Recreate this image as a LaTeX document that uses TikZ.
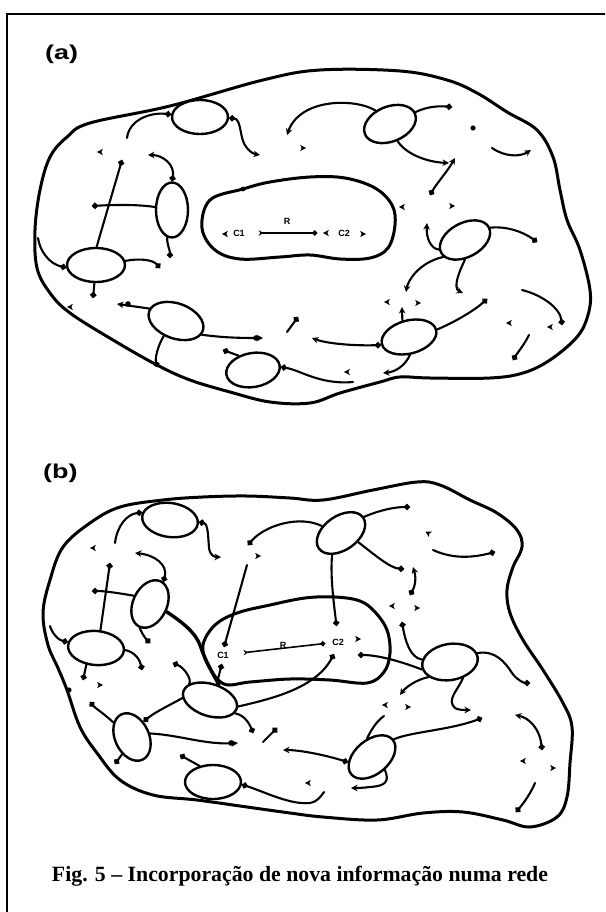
\documentclass[tikz,border=0pt]{standalone}
\usepackage{fontspec}
\usepackage{graphicx}
\usetikzlibrary{shapes.geometric,arrows.meta}
\newfontfamily\labfont{Liberation Sans}
\newfontfamily\capfont{Liberation Serif}
\tikzset{
  myD/.tip={Circle[length=6pt]},
  myT/.tip={Stealth[length=6.5pt,width=6.5pt]},
  con/.style={line width=2.1pt, line cap=round},
  ell/.style={draw, ellipse, fill=white, line width=2.4pt, inner sep=0pt},
  blob/.style={line width=3pt, line join=round},
  mk/.pic={\fill (3,0) -- (-2.8,3.1) -- (-1.4,0) -- (-2.8,-3.1) -- cycle;},
  clab/.style={font=\labfont\bfseries\fontsize{9}{9}\selectfont, inner sep=0.8pt},
  rarrow/.style={line width=1.6pt, {Stealth[reversed,length=4.5pt,width=5.5pt]}-{Circle[length=5pt]}},
}
\begin{document}
\begin{tikzpicture}[x=1pt,y=-1pt]
\useasboundingbox (0,0) rectangle (605,912);
% frame
\draw[line width=2.8pt, line join=miter] (7,912) -- (7,14) -- (605,14);
% labels
\node[anchor=base west, inner sep=0pt, font=\labfont\bfseries\fontsize{20}{21}\selectfont] (la) at (45,60) {\scalebox{1.35}[1]{(a)}};
\node[anchor=base west, inner sep=0pt, font=\labfont\bfseries\fontsize{20}{21}\selectfont] (lb) at (43,478) {\scalebox{1.35}[1]{(b)}};
\node[anchor=base, inner sep=0pt] (cap) at (300,881) {\resizebox{496pt}{!}{\capfont\bfseries\fontsize{21}{22}\selectfont Fig. 5 – Incorporação de nova informação numa rede}};

%%%%%%%%%%%%%%%% (a)
\draw[blob] plot[smooth cycle, tension=0.6] coordinates {(35,230) (40,190) (50,157) (67,137) (90,123) (170,106) (263,80) (320,70) (400,71) (447,80) (477,93) (507,112) (537,130) (553,157) (560,190) (567,220) (580,250) (590,290) (588,315) (577,337) (550,360) (523,373) (490,378) (430,378) (400,377) (380,382) (340,393) (310,403) (270,402) (230,392) (190,380) (157,365) (113,340) (70,313) (50,293) (37,268)};
\draw[blob] plot[smooth cycle, tension=0.6] coordinates {(202,228) (210,200) (243,189) (270,182) (310,177) (345,178) (375,188) (392,205) (395,225) (388,248) (370,258) (340,259) (310,255) (280,257) (240,259) (215,250)};
\fill (243,189) circle (2.4);

\node[ell, minimum width=56pt, minimum height=34pt] (A1) at (200,117) {};
\node[ell, minimum width=54pt, minimum height=35pt, rotate=22] (A2) at (390,124) {};
\node[ell, minimum width=32pt, minimum height=55pt] (A3) at (172,210) {};
\node[ell, minimum width=58pt, minimum height=34pt] (A4) at (96,265) {};
\node[ell, minimum width=54pt, minimum height=34pt, rotate=28] (A5) at (465,240) {};
\node[ell, minimum width=57pt, minimum height=35pt, rotate=-20] (A6) at (176,321) {};
\node[ell, minimum width=54pt, minimum height=34pt, rotate=10] (A7) at (253,370) {};
\node[ell, minimum width=56pt, minimum height=33pt, rotate=15] (A8) at (409,337) {};

\node[clab] (C1a) at (239,233) {C1};
\node[clab] (C2a) at (344,233) {C2};
\node[clab] (Ra) at (287,221) {R};
\draw[rarrow, shorten <=13pt, shorten >=20pt] (C1a) -- (C2a);

\path (127,138) coordinate (a1) (260,155) coordinate (a2) (148,155) coordinate (a3)
 (92,206) coordinate (a4) (170,258) coordinate (a5) (122,160) coordinate (a6)
 (38,238) coordinate (a7) (160,268) coordinate (a8) (93,298) coordinate (a9)
 (287,135) coordinate (a10) (452,107) coordinate (a11) (492,148) coordinate (a12)
 (531,150) coordinate (a13) (449,163) coordinate (a14) (455,158) coordinate (a15)
 (430,195) coordinate (a16) (537,242) coordinate (a17) (427,223) coordinate (a18)
 (463,293) coordinate (a19) (406,292) coordinate (a20) (117,304) coordinate (a21)
 (263,338) coordinate (a22) (157,367) coordinate (a23) (287,332) coordinate (a24)
 (298,317) coordinate (a25) (223,350) coordinate (a26) (353,382) coordinate (a27)
 (312,338) coordinate (a28) (402,307) coordinate (a29) (487,299) coordinate (a30)
 (383,373) coordinate (a31) (522,290) coordinate (a32) (562,325) coordinate (a33)
 (529,335) coordinate (a34) (513,360) coordinate (a35);

\draw[con,myD-] (A1.175) .. controls (150,112) and (129,120) .. (a1);
\draw[con,myD-myT] (A1.358) .. controls (242,119) and (239,140) .. (247,148) .. controls (250,152) and (254,154) .. (a2);
\draw[con,myT-myD] (a3) .. controls (163,155) and (175,165) .. (A3.north);
\draw[con,-myD] (A3.170) .. controls (135,204) and (110,205) .. (a4);
\draw[con,-myD] (A3.260) .. controls (167,245) and (170,250) .. (a5);
\draw[con,myD-] (a6) -- (A4.88);
\draw[con,-myD] (a7) .. controls (40,252) and (50,264) .. (A4.185);
\draw[con,-myD] (A4.8) .. controls (140,258) and (153,260) .. (a8);
\draw[con,-myD] (A4.265) -- (a9);
\draw[con,-myT] (A2.115) .. controls (355,98) and (300,98) .. (a10);
\draw[con,-myD] (A2.3) .. controls (428,106) and (440,106) .. (a11);
\draw[con,-myT] (a12) .. controls (505,157) and (520,157) .. (a13);
\draw[con,-myT] (A2.272) .. controls (405,153) and (425,162) .. (a14);
\draw[con,myT-myD] (a15) .. controls (447,172) and (437,183) .. (a16);
\draw[con,-myD] (A5.358) .. controls (505,226) and (522,231) .. (a17);
\draw[con,myT-] (a18) .. controls (426,238) and (431,249) .. (A5.172);
\draw[con,-myT] (A5.242) .. controls (460,270) and (452,288) .. (a19);
\draw[con,-myT] (A5.190) .. controls (420,262) and (408,280) .. (a20);
\draw[con,-myT] (A6.175) -- (a21);
\fill (128,304) circle (2.8);
\draw[con,-myT] (A6.352) .. controls (225,338) and (245,338) .. (a22);
\fill (256,338) circle (2.8);
\draw[con,-myD] (A6.251) .. controls (158,345) and (155,358) .. (a23);
\draw[con,-myD] (a24) -- (a25);
\draw[con,-myD] (A7.125) -- (a26);
\draw[con,myD-] (A7.356) .. controls (300,370) and (320,385) .. (a27);
\draw[con,myD-myT] (A8.181) .. controls (350,346) and (325,343) .. (a28);
\draw[con,-myT] (A8.97) -- (a29);
\draw[con,-myD] (A8.0) .. controls (455,322) and (475,310) .. (a30);
\draw[con,-myT] (A8.258) .. controls (405,366) and (395,372) .. (a31);
\draw[con,-myD] (a32) .. controls (542,295) and (560,308) .. (a33);
\draw[con,-myD] (a34) .. controls (524,345) and (518,352) .. (a35);

\pic[rotate=180] at (100,152) {mk};
\pic at (303,148) {mk};
\fill (473,128) circle (2.6);
\pic[rotate=180] at (402,207) {mk};
\pic at (452,206) {mk};
\pic[rotate=180] at (70,307) {mk};
\pic[rotate=180] at (347,372) {mk};
\pic[rotate=180] at (387,302) {mk};
\pic at (418,303) {mk};
\pic[rotate=180] at (509,323) {mk};
\pic[rotate=180] at (550,327) {mk};
\pic[rotate=180] at (225,234) {mk};
\pic[rotate=180] at (326,233) {mk};
\pic at (363,234) {mk};

%%%%%%%%%%%%%%%% (b)
\draw[blob] plot[smooth cycle, tension=0.6] coordinates {(43,613) (50,580) (63,547) (90,523) (120,507) (163,500) (203,497) (247,496) (290,498) (323,500) (373,490) (417,482) (440,485) (470,500) (497,513) (517,530) (522,547) (513,567) (507,590) (510,613) (523,640) (543,670) (563,703) (572,727) (570,763) (567,797) (557,817) (530,827) (503,820) (463,812) (423,813) (377,820) (323,817) (290,813) (247,807) (197,800) (153,795) (120,780) (97,753) (80,727) (67,690) (58,668) (48,645)};
\draw[blob] plot[smooth cycle, tension=0.6] coordinates {(203,645) (215,625) (237,613) (270,605) (305,598) (335,597) (360,601) (375,612) (387,630) (390,653) (384,672) (367,683) (330,680) (290,679) (250,682) (224,684) (208,665)};

\node[ell, minimum width=56pt, minimum height=34pt, rotate=-8] (B1) at (170,520) {};
\node[ell, minimum width=34pt, minimum height=50pt, rotate=-25] (B2) at (150,604) {};
\node[ell, minimum width=56pt, minimum height=34pt, rotate=-5] (B3) at (96,648) {};
\node[ell, minimum width=56pt, minimum height=32pt, rotate=-18] (B4) at (210,700) {};
\node[ell, minimum width=54pt, minimum height=34pt, rotate=35] (B5) at (341,533) {};
\node[ell, minimum width=56pt, minimum height=36pt, rotate=10] (B6) at (450,662) {};
\node[ell, minimum width=34pt, minimum height=50pt, rotate=25] (B7) at (132,737) {};
\node[ell, minimum width=56pt, minimum height=34pt] (B8) at (213,782) {};
\node[ell, minimum width=54pt, minimum height=34pt, rotate=40] (B9) at (372,757) {};

\node[clab] (C1b) at (223,655) {C1};
\node[clab] (C2b) at (338,642) {C2};
\node[clab] (Rb) at (283,645) {R};
\draw[rarrow, shorten <=14pt, shorten >=6pt] (C1b) -- (C2b);

\path (115,543) coordinate (b1) (221,557) coordinate (b2) (135,553) coordinate (b3)
 (92,591) coordinate (b4) (110,563) coordinate (b5) (50,626) coordinate (b6)
 (142,670) coordinate (b7) (83,680) coordinate (b8) (150,643) coordinate (b9)
 (248,545) coordinate (b10) (247,565) coordinate (b11) (173,663) coordinate (b14)
 (410,507) coordinate (b15) (433,550) coordinate (b16) (495,552) coordinate (b17)
 (404,569) coordinate (b18) (413,567) coordinate (b19) (410,595) coordinate (b20)
 (358,655) coordinate (b22) (402,622) coordinate (b23) (530,683) coordinate (b24)
 (400,695) coordinate (b25) (471,710) coordinate (b26) (482,718) coordinate (b27)
 (384,716) coordinate (b28) (283,750) coordinate (b29) (351,788) coordinate (b30)
 (324,792) coordinate (b31) (180,755) coordinate (b32) (90,702) coordinate (b33)
 (115,764) coordinate (b34) (238,743) coordinate (b35) (253,733) coordinate (b36)
 (263,742) coordinate (b37) (277,728) coordinate (b38) (515,715) coordinate (b39)
 (542,750) coordinate (b40) (535,783) coordinate (b41) (516,812) coordinate (b42);

\draw[con,-myD] (b1) .. controls (117,526) and (127,514) .. (B1.173);
\draw[con,myD-myT] (B1.4) .. controls (208,524) and (208,535) .. (209,548) .. controls (210,555) and (214,557) .. (b2);
\draw[con,myT-myD] (b3) .. controls (155,555) and (168,565) .. (B2.84);
\draw[con,-myD] (B2.178) .. controls (118,593) and (105,591) .. (b4);
\draw[con,myD-] (b5) -- (B3.81);
\draw[con,myD-] (B3.173) .. controls (58,640) and (52,633) .. (b6);
\draw[con,-myD] (B3.1) .. controls (135,652) and (140,660) .. (b7);
\draw[con,-myD] (B3.245) -- (b8);
\draw[con,-myD] (B2.272) .. controls (143,636) and (147,640) .. (b9);
\draw[con,line width=3.4pt] (B2.0) .. controls (182,622) and (195,632) .. (200,645) .. controls (205,660) and (212,672) .. (B4.77);
\draw[con,myD-] (b10) .. controls (265,525) and (300,515) .. (B5.125);
\draw[con,-myD,shorten >=4pt] (b11) -- (C1b.north);
\draw[con,myD-,shorten <=5pt] (C1b.south) -- (B4.85);
\draw[con,myD-] (b14) .. controls (185,668) and (192,680) .. (B4.160);
\draw[con,-myD] (B5.0) .. controls (380,510) and (395,507) .. (b15);
\draw[con,-myD] (b16) .. controls (455,560) and (475,557) .. (b17);
\draw[con,-myD] (B5.297) .. controls (375,555) and (390,568) .. (b18);
\draw[con,myT-myD] (b19) .. controls (417,580) and (414,588) .. (b20);
\draw[con,-myD,shorten >=12pt] (B5.213) .. controls (330,575) and (334,605) .. (C2b.north);
\draw[con,-myD,shorten >=9pt] (B4.5) .. controls (265,700) and (315,690) .. (C2b.south);
\draw[con,myD-] (b22) .. controls (380,655) and (405,663) .. (B6.185);
\draw[con,myD-] (b23) .. controls (405,640) and (410,658) .. (B6.165);
\draw[con,-myD] (B6.8) .. controls (495,650) and (505,662) .. (512,673) .. controls (517,680) and (524,683) .. (b24);
\draw[con,-myT] (B6.205) .. controls (415,680) and (405,688) .. (b25);
\draw[con,-myT] (B6.299) .. controls (458,690) and (446,700) .. (455,708) .. controls (458,710) and (464,710) .. (b26);
\draw[con,myD-] (b27) .. controls (450,730) and (410,732) .. (B9.-1);
\draw[con] (B9.65) .. controls (372,728) and (378,720) .. (b28);
\draw[con,myD-myT] (B9.152) .. controls (325,755) and (300,750) .. (b29);
\draw[con,-myT] (B9.-85) .. controls (390,782) and (385,786) .. (370,787) .. controls (362,788) and (357,788) .. (b30);
\draw[con,myD-] (B8.-5) .. controls (265,792) and (290,805) .. (310,803) .. controls (316,802) and (320,798) .. (b31);
\draw[con,-myD] (B8.130) -- (b32);
\draw[con,-myD] (B4.194) .. controls (170,705) and (155,712) .. (B7.28);
\draw[con,-myD] (B7.117) .. controls (102,712) and (95,708) .. (b33);
\draw[con,-myD] (B7.215) -- (b34);
\draw[con,-myT] (B7.-14) .. controls (180,735) and (205,745) .. (b35);
\fill (231,743) circle (2.8);
\draw[con,-myD] (B4.-10) .. controls (245,715) and (250,725) .. (b36);
\draw[con,-myD] (b37) -- (b38);
\draw[con,myT-myD] (b39) .. controls (530,718) and (540,730) .. (b40);
\draw[con,-myD] (b41) .. controls (530,795) and (522,805) .. (b42);

\pic[rotate=180] at (93,548) {mk};
\pic at (258,556) {mk};
\pic[rotate=150] at (428,533) {mk};
\pic[rotate=180] at (392,606) {mk};
\pic at (417,608) {mk};
\pic at (358,639) {mk};
\pic[rotate=180] at (385,705) {mk};
\pic at (408,707) {mk};
\pic[rotate=180] at (308,783) {mk};
\pic[rotate=180] at (523,761) {mk};
\pic at (553,768) {mk};
\fill (69,690) circle (2.6);
\pic at (100,685) {mk};
\end{tikzpicture}
\end{document}
